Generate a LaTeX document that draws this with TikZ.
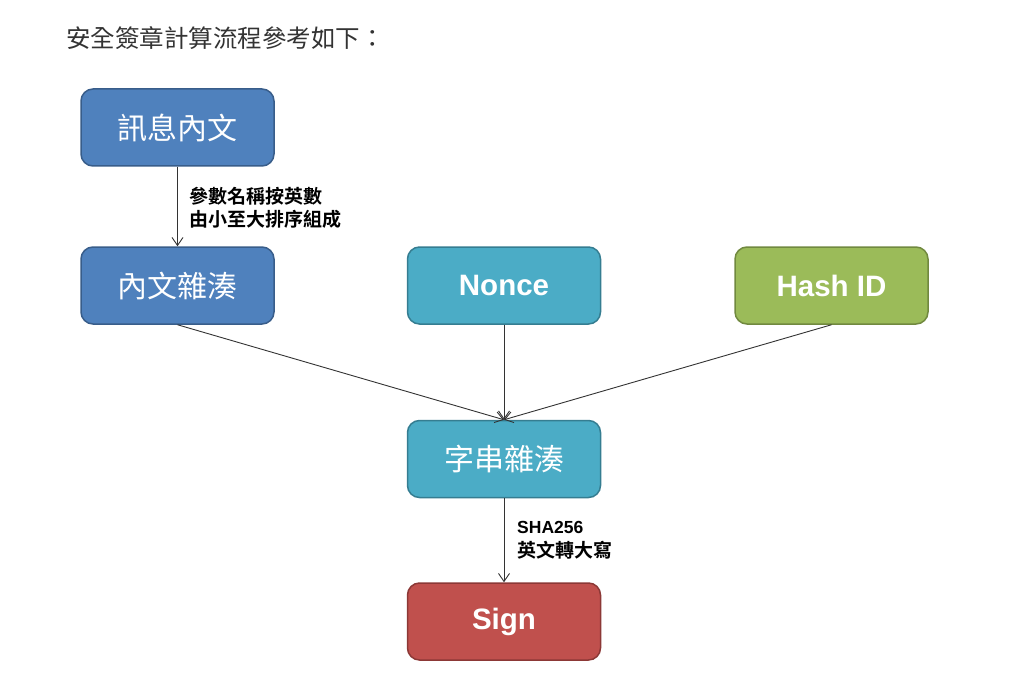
\documentclass[tikz,border=0pt]{standalone}
\usepackage{fontspec}
\usetikzlibrary{arrows.meta}
\newfontfamily\cjk{Noto Sans CJK TC}[BoldFont={Noto Sans CJK TC Bold}]
\newfontfamily\lat{Liberation Sans}
\definecolor{bluef}{HTML}{4F81BD}\definecolor{blued}{HTML}{385D8A}
\definecolor{tealf}{HTML}{4BACC6}\definecolor{teald}{HTML}{357D91}
\definecolor{greenf}{HTML}{9BBB59}\definecolor{greend}{HTML}{71893F}
\definecolor{redf}{HTML}{C0504D}\definecolor{redd}{HTML}{8C3836}
\definecolor{txt}{HTML}{333333}
\tikzset{
  box/.style={rounded corners=12pt, line width=1.5pt, minimum width=193pt, minimum height=77pt, text=white, inner sep=0pt},
  cjkbox/.style={box, font=\cjk\fontsize{30}{32}\selectfont},
  latbox/.style={box, font=\lat\bfseries\fontsize{29.5}{32}\selectfont},
  conn/.style={draw=txt, line width=0.9pt, -{Straight Barb[length=8pt,width=11pt]}},
  lbl/.style={font=\cjk\bfseries\fontsize{19}{23}\selectfont, align=left, anchor=west, inner sep=0pt, text=black}
}
\begin{document}
\begin{tikzpicture}[x=1pt,y=-1pt]
\useasboundingbox (0,0) rectangle (1024,679);
\fill[white] (0,0) rectangle (1024,679);
\node[anchor=west, inner sep=0pt, text=txt, font=\cjk\fontsize{24.5}{27}\selectfont] (title) at (66,38) {安全簽章計算流程參考如下：};
\node[cjkbox, fill=bluef, draw=blued] (msg) at (177.5,127.5) {訊息內文};
\node[cjkbox, fill=bluef, draw=blued] (bodyhash) at (177.5,285.5) {內文雜湊};
\node[latbox, fill=tealf, draw=teald] (nonce) at (504,285.5) {Nonce};
\node[latbox, fill=greenf, draw=greend] (hashid) at (831.5,285.5) {Hash ID};
\node[cjkbox, fill=tealf, draw=teald] (strhash) at (504,459) {字串雜湊};
\node[latbox, fill=redf, draw=redd] (sign) at (504,621.5) {Sign};
\draw[conn] (msg.south) -- (bodyhash.north);
\draw[conn] (bodyhash.south) -- (strhash.north);
\draw[conn] (nonce.south) -- (strhash.north);
\draw[conn] (hashid.south) -- (strhash.north);
\draw[conn] (strhash.south) -- (sign.north);
\node[lbl] (l1) at (189,208) {參數名稱按英數\\由小至大排序組成};
\node[lbl] (l2) at (517,540) {{\lat\bfseries\fontsize{17.5}{20}\selectfont SHA256}\\[1pt]英文轉大寫};
\end{tikzpicture}
\end{document}
